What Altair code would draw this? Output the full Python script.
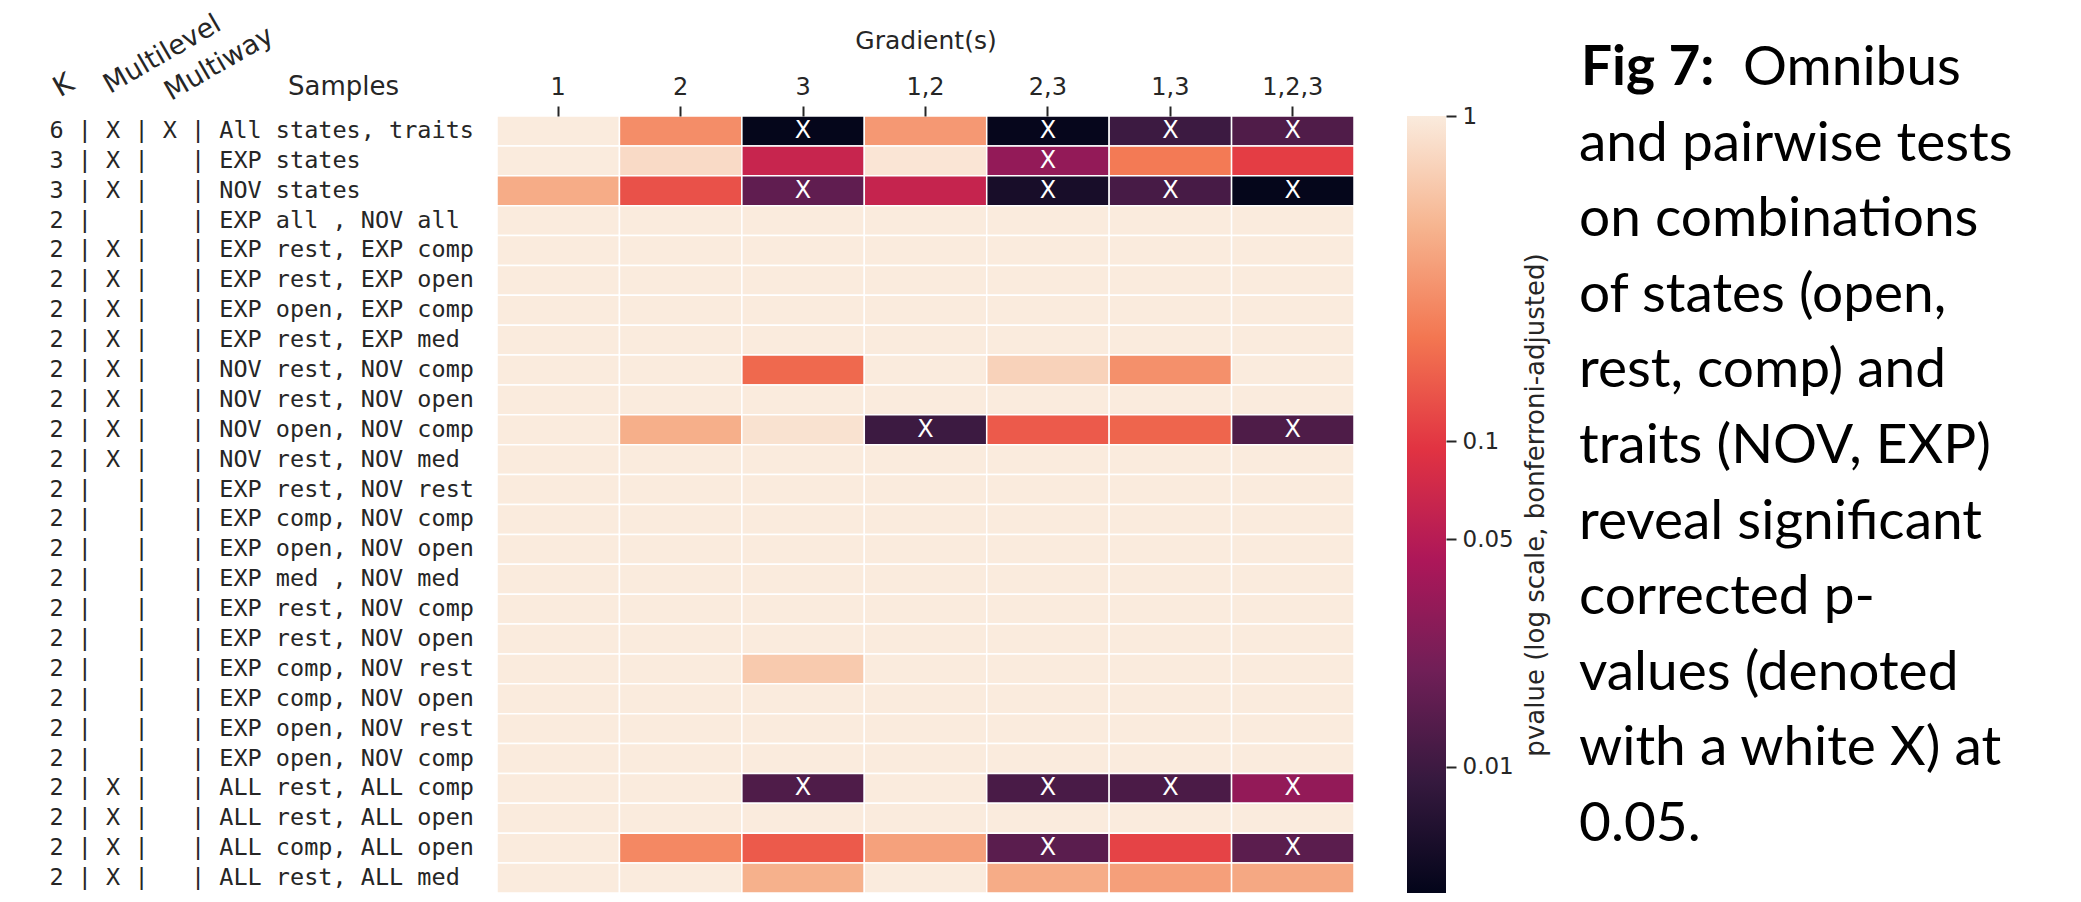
import altair as alt
import pandas as pd

# ---- table of tests ----------------------------------------------------------
gradients = ["1", "2", "3", "1,2", "2,3", "1,3", "1,2,3"]

k_groups = [6, 3, 3] + [2] * 23
multilevel = [True, True, True, False,
              True, True, True, True, True, True, True, True,
              False, False, False, False, False, False, False, False, False, False,
              True, True, True, True]
multiway = [True] + [False] * 25
samples = [
    "All states, traits", "EXP states", "NOV states", "EXP all , NOV all",
    "EXP rest, EXP comp", "EXP rest, EXP open", "EXP open, EXP comp", "EXP rest, EXP med",
    "NOV rest, NOV comp", "NOV rest, NOV open", "NOV open, NOV comp", "NOV rest, NOV med",
    "EXP rest, NOV rest", "EXP comp, NOV comp", "EXP open, NOV open", "EXP med , NOV med",
    "EXP rest, NOV comp", "EXP rest, NOV open", "EXP comp, NOV rest", "EXP comp, NOV open",
    "EXP open, NOV rest", "EXP open, NOV comp",
    "ALL rest, ALL comp", "ALL rest, ALL open", "ALL comp, ALL open", "ALL rest, ALL med",
]

# bonferroni-adjusted p-values, one row per test, one column per gradient set
pvalues = [
    [1.0, 0.28, 0.0042, 0.32, 0.0043, 0.0099, 0.0128],
    [1.0, 0.79, 0.064, 0.92, 0.031, 0.22, 0.107],
    [0.41, 0.135, 0.016, 0.062, 0.0057, 0.0114, 0.0042],
    [1.0, 1.0, 1.0, 1.0, 1.0, 1.0, 1.0],
    [1.0, 1.0, 1.0, 1.0, 1.0, 1.0, 1.0],
    [1.0, 1.0, 1.0, 1.0, 1.0, 1.0, 1.0],
    [1.0, 1.0, 1.0, 1.0, 1.0, 1.0, 1.0],
    [1.0, 1.0, 1.0, 1.0, 1.0, 1.0, 1.0],
    [1.0, 1.0, 0.178, 1.0, 0.70, 0.29, 1.0],
    [1.0, 1.0, 1.0, 1.0, 1.0, 1.0, 1.0],
    [1.0, 0.43, 0.88, 0.0099, 0.15, 0.17, 0.0125],
    [1.0, 1.0, 1.0, 1.0, 1.0, 1.0, 1.0],
    [1.0, 1.0, 1.0, 1.0, 1.0, 1.0, 1.0],
    [1.0, 1.0, 1.0, 1.0, 1.0, 1.0, 1.0],
    [1.0, 1.0, 1.0, 1.0, 1.0, 1.0, 1.0],
    [1.0, 1.0, 1.0, 1.0, 1.0, 1.0, 1.0],
    [1.0, 1.0, 1.0, 1.0, 1.0, 1.0, 1.0],
    [1.0, 1.0, 1.0, 1.0, 1.0, 1.0, 1.0],
    [1.0, 1.0, 0.62, 1.0, 1.0, 1.0, 1.0],
    [1.0, 1.0, 1.0, 1.0, 1.0, 1.0, 1.0],
    [1.0, 1.0, 1.0, 1.0, 1.0, 1.0, 1.0],
    [1.0, 1.0, 1.0, 1.0, 1.0, 1.0, 1.0],
    [1.0, 1.0, 0.0127, 1.0, 0.0118, 0.012, 0.031],
    [1.0, 1.0, 1.0, 1.0, 1.0, 1.0, 1.0],
    [1.0, 0.26, 0.15, 0.36, 0.0148, 0.115, 0.015],
    [1.0, 1.0, 0.44, 1.0, 0.41, 0.35, 0.39],
]

alpha = 0.05
p_min = 0.0041
colorbar_ticks = [1, 0.1, 0.05, 0.01]

table_headers = ["K", "Multilevel", "Multiway", "Samples"]
caption_lead = "Fig 7:"
caption_lines = [
    "Omnibus",
    "and pairwise tests",
    "on combinations",
    "of states (open,",
    "rest, comp) and",
    "traits (NOV, EXP)",
    "reveal significant",
    "corrected p-",
    "values (denoted",
    "with a white X) at",
    "0.05.",
]

# rocket colour map, evenly spaced in log(p)
rocket = ["#03051a", "#35193e", "#701f57", "#ad1759",
          "#e13342", "#f37651", "#f6b48f", "#faebdd"]
n_stops = len(rocket) - 1
color_domain = [p_min ** (1 - k / n_stops) for k in range(n_stops + 1)]

INK = "#262626"
SANS = "DejaVu Sans"
MONO = "DejaVu Sans Mono"
NBSP = "\u00a0"

# row labels in fixed-width columns: K | multilevel | multiway | samples
row_labels = [
    f"{k} | {'X' if ml else ' '} | {'X' if mw else ' '} | {s}".replace(" ", NBSP)
    for k, ml, mw, s in zip(k_groups, multilevel, multiway, samples)
]

records = []
for lab, prow in zip(row_labels, pvalues):
    for g, p in zip(gradients, prow):
        records.append({"row": lab, "gradient": g, "p": p})
cells = pd.DataFrame(records)

W, H = 857, 777

x_enc = alt.X(
    "gradient:N", sort=gradients,
    scale=alt.Scale(paddingInner=0, paddingOuter=0),
    axis=alt.Axis(orient="top", labelAngle=0, title="Gradient(s)", domain=False,
                  tickSize=10, tickWidth=2, tickColor=INK, labelPadding=7,
                  labelFont=SANS, labelFontSize=24, labelColor=INK,
                  titleFont=SANS, titleFontSize=25, titleFontWeight="normal",
                  titleColor=INK, titlePadding=22),
)
# the label column is left-aligned so the fixed-width fields line up
y_enc = alt.Y(
    "row:N", sort=row_labels,
    scale=alt.Scale(paddingInner=0, paddingOuter=0),
    axis=alt.Axis(orient="left", title=None, domain=False, ticks=False, tickSize=0,
                  labelAlign="left", labelPadding=448, labelFont=MONO,
                  labelFontSize=23.5, labelColor=INK, labelLimit=1000),
)

heat = alt.Chart(cells).mark_rect(stroke="white", strokeWidth=1.5).encode(
    x=x_enc,
    y=y_enc,
    color=alt.Color("p:Q", legend=None,
                    scale=alt.Scale(type="log", domain=color_domain, range=rocket,
                                    interpolate="rgb", clamp=True)),
)

marks = alt.Chart(cells).transform_filter(f"datum.p < {alpha}").mark_text(
    text="X", color="white", font=SANS, fontSize=24, baseline="middle", align="center"
).encode(x=x_enc, y=y_enc)

# colour bar drawn on its own log axis
bar = pd.DataFrame({"top": [1.0], "bottom": [p_min]})
gradient_fill = alt.LinearGradient(
    gradient="linear", x1=0, x2=0, y1=0, y2=1,
    stops=[alt.GradientStop(color=c, offset=1 - k / n_stops)
           for k, c in reversed(list(enumerate(rocket)))],
)
colorbar = alt.Chart(bar).mark_rect(fill=gradient_fill, strokeWidth=0).encode(
    x=alt.value(910), x2=alt.value(949),
    y=alt.Y("top:Q",
            scale=alt.Scale(type="log", domain=[p_min, 1.0], nice=False, zero=False),
            axis=alt.Axis(orient="right", offset=92, values=colorbar_ticks, format="~g",
                          grid=False, domain=False, tickSize=10, tickWidth=2,
                          tickColor=INK, labelPadding=6, labelFont=SANS,
                          labelFontSize=23, labelColor=INK,
                          title="pvalue (log scale, bonferroni-adjusted)",
                          titleAngle=270, titleBaseline="top", titleFont=SANS,
                          titleFontSize=26, titleFontWeight="normal",
                          titleColor=INK, titlePadding=9)),
    y2="bottom:Q",
)


def text_mark(label, x, y, **style):
    return alt.Chart(pd.DataFrame({"label": [label]})).mark_text(**style).encode(
        text="label:N", x=alt.value(x), y=alt.value(y))


head_style = dict(font=SANS, color=INK)
headers = [
    text_mark(table_headers[0], -433, -30, angle=330, align="center", baseline="middle",
              fontSize=28, **head_style),
    text_mark(table_headers[1], -387, -22, angle=330, align="left", baseline="alphabetic",
              fontSize=27, **head_style),
    text_mark(table_headers[2], -326, -15, angle=330, align="left", baseline="alphabetic",
              fontSize=27, **head_style),
    text_mark(table_headers[3], -209, -29, align="left", baseline="middle",
              fontSize=26, **head_style),
]

cap_style = dict(font="Lato", fontSize=55, color="black", align="left", baseline="alphabetic")
line_gap = 75.6
caption = [
    text_mark(caption_lead, 1084, -31, fontWeight="bold", **cap_style),
    text_mark(caption_lines[0], 1246, -31, **cap_style),
    text_mark("\n".join(caption_lines[1:]), 1082, -31 + line_gap,
              lineBreak="\n", lineHeight=line_gap, **cap_style),
]

heat_layer = alt.layer(heat, marks, *headers, *caption)
chart = alt.layer(heat_layer, colorbar).resolve_scale(y="independent").properties(
    width=W, height=H,
    autosize=alt.AutoSizeParams(type="none"),
    padding={"left": 497, "top": 116, "right": 727, "bottom": 9},
).configure_view(stroke=None)

chart.save("out.html", embed_options={"renderer": "svg", "actions": False})
